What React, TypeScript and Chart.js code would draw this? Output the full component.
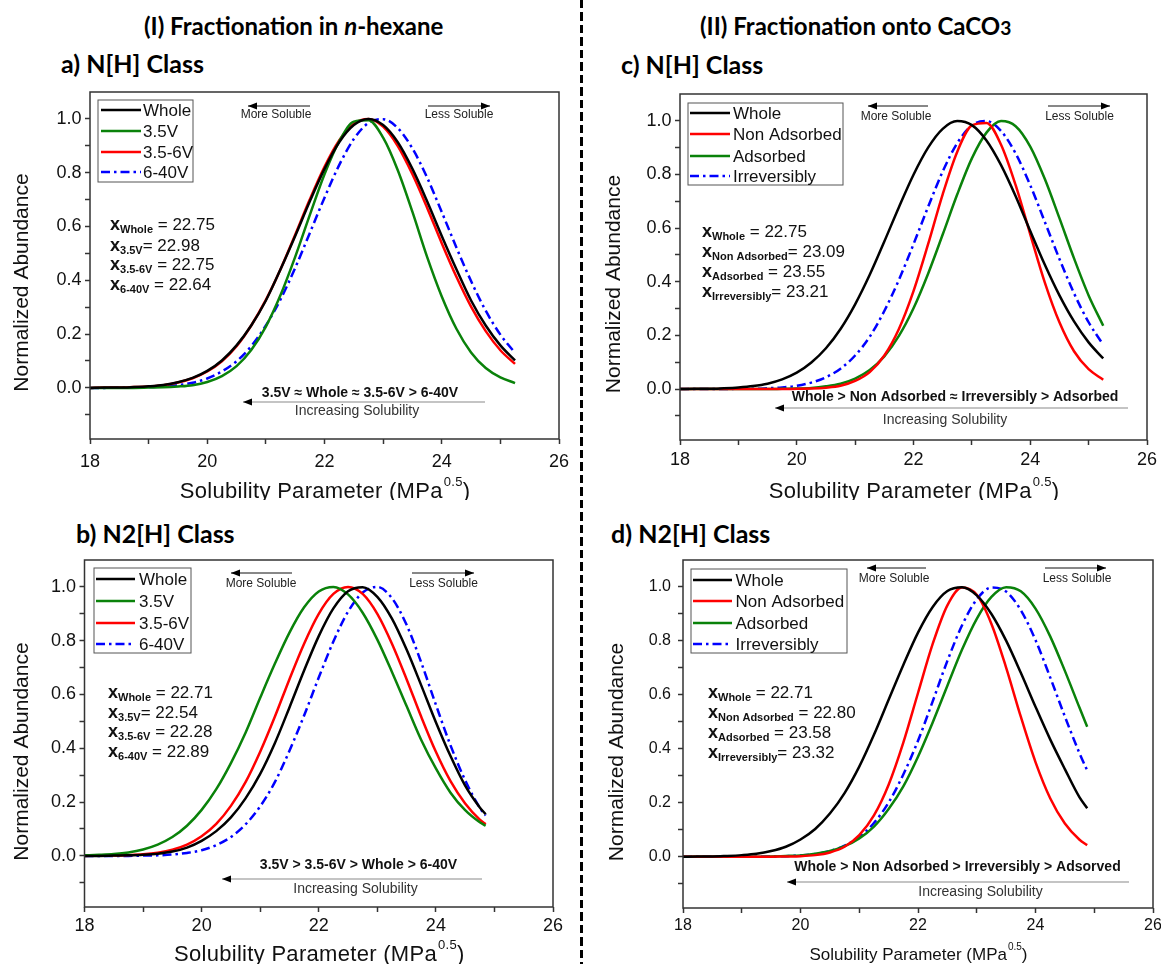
import React, { useEffect, useRef } from 'react';
import { Chart, registerables } from 'chart.js';

Chart.register(...registerables);

const FONT = '"Liberation Sans", Arial, Helvetica, sans-serif';
const HEAD_FONT = 'Lato, "Open Sans", sans-serif';

// ---------- data ----------
const X_AC = [18, 18.25, 18.5, 18.75, 19, 19.25, 19.5, 19.75, 20, 20.25, 20.5, 20.75, 21, 21.25, 21.5, 21.75, 22, 22.25, 22.5, 22.75, 23, 23.25, 23.5, 23.75, 24, 24.25, 24.5, 24.75, 25, 25.25];
const X_B = [18, 18.25, 18.5, 18.75, 19, 19.25, 19.5, 19.75, 20, 20.25, 20.5, 20.75, 21, 21.25, 21.5, 21.75, 22, 22.25, 22.5, 22.75, 23, 23.25, 23.5, 23.75, 24, 24.25, 24.5, 24.75, 24.85];
const X_D = [18, 18.25, 18.5, 18.75, 19, 19.25, 19.5, 19.75, 20, 20.25, 20.5, 20.75, 21, 21.25, 21.5, 21.75, 22, 22.25, 22.5, 22.75, 23, 23.25, 23.5, 23.75, 24, 24.25, 24.5, 24.75, 24.88];

// (a) N[H] class, n-hexane
const A_WHOLE = [0, 0.001, 0.001, 0.003, 0.006, 0.011, 0.021, 0.037, 0.063, 0.102, 0.158, 0.232, 0.325, 0.441, 0.565, 0.694, 0.814, 0.913, 0.977, 1.0, 0.977, 0.913, 0.814, 0.694, 0.565, 0.441, 0.325, 0.232, 0.158, 0.102];
const A_35V = [0, 0, 0, 0, 0.001, 0.002, 0.005, 0.010, 0.022, 0.044, 0.081, 0.141, 0.228, 0.345, 0.487, 0.643, 0.794, 0.916, 0.99, 0.995, 0.930, 0.809, 0.654, 0.487, 0.340, 0.220, 0.132, 0.074, 0.039, 0.018];
const A_356V = [0, 0.001, 0.001, 0.003, 0.005, 0.010, 0.020, 0.036, 0.061, 0.099, 0.155, 0.232, 0.327, 0.441, 0.569, 0.701, 0.822, 0.920, 0.982, 1.0, 0.971, 0.899, 0.794, 0.670, 0.538, 0.413, 0.302, 0.211, 0.140, 0.089];
const A_640V = [0, 0, 0.001, 0.001, 0.003, 0.005, 0.010, 0.019, 0.035, 0.061, 0.099, 0.155, 0.232, 0.329, 0.446, 0.576, 0.707, 0.828, 0.925, 0.985, 0.999, 0.966, 0.890, 0.782, 0.654, 0.522, 0.397, 0.287, 0.198, 0.130];

// (b) N2[H] class, n-hexane
const B_WHOLE = [0, 0, 0.001, 0.002, 0.004, 0.008, 0.016, 0.031, 0.056, 0.092, 0.143, 0.214, 0.305, 0.419, 0.552, 0.689, 0.817, 0.920, 0.984, 0.999, 0.963, 0.882, 0.767, 0.634, 0.497, 0.371, 0.261, 0.180, 0.155];
const B_35V = [0.002, 0.004, 0.007, 0.013, 0.024, 0.042, 0.070, 0.112, 0.171, 0.248, 0.345, 0.458, 0.588, 0.714, 0.830, 0.924, 0.983, 1.0, 0.972, 0.904, 0.804, 0.684, 0.557, 0.431, 0.325, 0.235, 0.170, 0.125, 0.112];
const B_356V = [0, 0.001, 0.001, 0.003, 0.006, 0.012, 0.023, 0.042, 0.073, 0.119, 0.186, 0.274, 0.387, 0.517, 0.657, 0.789, 0.900, 0.974, 1.0, 0.974, 0.900, 0.789, 0.657, 0.517, 0.387, 0.278, 0.195, 0.135, 0.118];
const B_640V = [0, 0, 0, 0, 0.001, 0.002, 0.005, 0.011, 0.021, 0.040, 0.070, 0.117, 0.184, 0.274, 0.391, 0.522, 0.663, 0.797, 0.908, 0.979, 1.0, 0.958, 0.859, 0.719, 0.562, 0.411, 0.281, 0.179, 0.150];

// (c) N[H] class, CaCO3
const C_WHOLE = [0, 0.001, 0.001, 0.003, 0.006, 0.011, 0.020, 0.036, 0.061, 0.099, 0.152, 0.224, 0.316, 0.426, 0.550, 0.678, 0.799, 0.900, 0.970, 0.999, 0.984, 0.927, 0.835, 0.719, 0.589, 0.463, 0.349, 0.252, 0.174, 0.114];
const C_NONADS = [0, 0, 0, 0, 0, 0, 0, 0, 0.001, 0.002, 0.005, 0.012, 0.030, 0.063, 0.125, 0.224, 0.365, 0.540, 0.726, 0.885, 0.983, 0.992, 0.911, 0.760, 0.577, 0.397, 0.249, 0.141, 0.074, 0.035];
const C_ADS = [0, 0, 0, 0, 0, 0, 0, 0.001, 0.002, 0.004, 0.010, 0.020, 0.039, 0.071, 0.122, 0.198, 0.301, 0.430, 0.576, 0.726, 0.860, 0.956, 0.999, 0.980, 0.904, 0.783, 0.637, 0.487, 0.349, 0.236];
const C_IRR = [0, 0, 0, 0, 0.001, 0.001, 0.003, 0.006, 0.012, 0.024, 0.044, 0.076, 0.125, 0.195, 0.291, 0.407, 0.540, 0.679, 0.811, 0.917, 0.983, 0.999, 0.962, 0.878, 0.760, 0.623, 0.485, 0.357, 0.249, 0.165];

// (d) N2[H] class, CaCO3
const D_WHOLE = [0, 0.001, 0.001, 0.003, 0.006, 0.011, 0.021, 0.037, 0.064, 0.103, 0.160, 0.236, 0.334, 0.452, 0.582, 0.711, 0.831, 0.926, 0.985, 0.999, 0.969, 0.900, 0.801, 0.682, 0.556, 0.435, 0.325, 0.220, 0.180];
const D_NONADS = [0, 0, 0, 0, 0, 0, 0, 0.001, 0.002, 0.006, 0.016, 0.037, 0.080, 0.153, 0.267, 0.423, 0.607, 0.789, 0.932, 0.998, 0.971, 0.863, 0.701, 0.519, 0.351, 0.217, 0.123, 0.063, 0.043];
const D_ADS = [0, 0, 0, 0, 0, 0, 0.001, 0.003, 0.005, 0.011, 0.021, 0.039, 0.068, 0.112, 0.177, 0.261, 0.371, 0.498, 0.634, 0.768, 0.882, 0.963, 0.999, 0.984, 0.920, 0.817, 0.689, 0.552, 0.482];
const D_IRR = [0, 0, 0, 0, 0, 0, 0.001, 0.002, 0.005, 0.010, 0.021, 0.041, 0.073, 0.125, 0.201, 0.305, 0.430, 0.576, 0.726, 0.858, 0.954, 0.998, 0.983, 0.914, 0.803, 0.665, 0.520, 0.383, 0.320];

const LABELS_HEX = ['Whole', '3.5V', '3.5-6V', '6-40V'];
const LABELS_CACO3 = ['Whole', 'Non Adsorbed', 'Adsorbed', 'Irreversibly'];

const A_MEANS = [['Whole', ' = 22.75'], ['3.5V', '= 22.98'], ['3.5-6V', ' = 22.75'], ['6-40V', ' = 22.64']];
const B_MEANS = [['Whole', ' = 22.71'], ['3.5V', '= 22.54'], ['3.5-6V', ' = 22.28'], ['6-40V', ' = 22.89']];
const C_MEANS = [['Whole', ' = 22.75'], ['Non Adsorbed', '= 23.09'], ['Adsorbed', ' = 23.55'], ['Irreversibly', '= 23.21']];
const D_MEANS = [['Whole', ' = 22.71'], ['Non Adsorbed', ' = 22.80'], ['Adsorbed', ' = 23.58'], ['Irreversibly', '= 23.32']];

const A_ORDER = '3.5V \u2248 Whole \u2248 3.5-6V > 6-40V';
const B_ORDER = '3.5V > 3.5-6V > Whole > 6-40V';
const C_ORDER = 'Whole > Non Adsorbed \u2248 Irreversibly > Adsorbed';
const D_ORDER = 'Whole > Non Adsorbed > Irreversibly > Adsorved';

const X_TICKS = [18, 19, 20, 21, 22, 23, 24, 25, 26];
const Y_TICKS = [-0.1, 0, 0.1, 0.2, 0.3, 0.4, 0.5, 0.6, 0.7, 0.8, 0.9, 1.0];

// ---------- styles ----------
const BLACK = '#000000';
const GREEN = '#0a820a';
const RED = '#ff0000';
const BLUE = '#0000ff';
const DASHDOT = [9, 4, 2.5, 4];

type Series = { label: string; color: string; dash?: number[]; data: number[] };
type Panel = {
  id: string;
  canvas: { left: number; top: number; width: number; height: number };
  area: { left: number; right: number; top: number; bottom: number };
  xs: number[];
  series: Series[];
  tickFont: number;
  xTickPad: number;
  yTickPad: number;
  xTitleSize: number;
  xTitleY: number;
  yTitleX: number;
  yTitleShift: number;
  legend: { x: number; y: number; w: number; h: number; rows: number[]; l0: number; l1: number; tx: number };
  means: string[][];
  meansX: number;
  meansRows: number[];
  more: { tx: number; ty: number; a0: number; a1: number; ay: number };
  less: { tx: number; ty: number; a0: number; a1: number; ay: number };
  order: string;
  orderPos: { x: number; y: number };
  incArrow: { x0: number; x1: number; y: number };
  incText: { x: number; y: number };
};

const PANELS: Panel[] = [
  {
    id: 'a',
    canvas: { left: 0, top: 70, width: 580, height: 430 },
    area: { left: 90, right: 559, top: 92, bottom: 439 },
    xs: X_AC,
    series: [
      { label: LABELS_HEX[0], color: BLACK, data: A_WHOLE },
      { label: LABELS_HEX[1], color: GREEN, data: A_35V },
      { label: LABELS_HEX[2], color: RED, data: A_356V },
      { label: LABELS_HEX[3], color: BLUE, dash: DASHDOT, data: A_640V },
    ],
    tickFont: 18, xTickPad: 7, yTickPad: 3.5, xTitleSize: 22, xTitleY: 492, yTitleX: 22, yTitleShift: 17,
    legend: { x: 8, y: 8, w: 95, h: 82, rows: [18, 39, 60, 80], l0: 3, l1: 43, tx: 45 },
    means: A_MEANS, meansX: 20, meansRows: [133, 154, 173, 193],
    more: { tx: 186, ty: 23, a0: 158, a1: 220, ay: 14 },
    less: { tx: 369, ty: 23, a0: 338, a1: 400, ay: 14 },
    order: A_ORDER, orderPos: { x: 270, y: 301 },
    incArrow: { x0: 153, x1: 395, y: 310 }, incText: { x: 267, y: 319 },
  },
  {
    id: 'b',
    canvas: { left: 0, top: 540, width: 580, height: 424 },
    area: { left: 84.5, right: 553, top: 560, bottom: 907 },
    xs: X_B,
    series: [
      { label: LABELS_HEX[0], color: BLACK, data: B_WHOLE },
      { label: LABELS_HEX[1], color: GREEN, data: B_35V },
      { label: LABELS_HEX[2], color: RED, data: B_356V },
      { label: LABELS_HEX[3], color: BLUE, dash: DASHDOT, data: B_640V },
    ],
    tickFont: 18, xTickPad: 3, yTickPad: 3.5, xTitleSize: 22, xTitleY: 955, yTitleX: 22, yTitleShift: 18,
    legend: { x: 9.5, y: 8, w: 97, h: 85, rows: [19, 41, 63, 84], l0: 2, l1: 41, tx: 45 },
    means: B_MEANS, meansX: 23.5, meansRows: [133, 153, 172, 192],
    more: { tx: 176.5, ty: 24, a0: 146.5, a1: 207.5, ay: 13 },
    less: { tx: 359, ty: 24, a0: 327.5, a1: 389.5, ay: 13 },
    order: B_ORDER, orderPos: { x: 274, y: 305 },
    incArrow: { x0: 137.5, x1: 397.5, y: 319 }, incText: { x: 271, y: 329 },
  },
  {
    id: 'c',
    canvas: { left: 585, top: 70, width: 576, height: 430 },
    area: { left: 680, right: 1147, top: 94, bottom: 440 },
    xs: X_AC,
    series: [
      { label: LABELS_CACO3[0], color: BLACK, data: C_WHOLE },
      { label: LABELS_CACO3[1], color: RED, data: C_NONADS },
      { label: LABELS_CACO3[2], color: GREEN, data: C_ADS },
      { label: LABELS_CACO3[3], color: BLUE, dash: DASHDOT, data: C_IRR },
    ],
    tickFont: 18, xTickPad: 4, yTickPad: 3.5, xTitleSize: 22, xTitleY: 492, yTitleX: 614, yTitleShift: 17,
    legend: { x: 8, y: 9, w: 155, h: 82, rows: [19, 40, 62, 82], l0: 2, l1: 42, tx: 45 },
    means: C_MEANS, meansX: 22, meansRows: [138, 158, 178, 198],
    more: { tx: 216, ty: 23, a0: 188, a1: 248, ay: 12 },
    less: { tx: 399.5, ty: 23, a0: 368, a1: 430, ay: 12 },
    order: C_ORDER, orderPos: { x: 275, y: 303 },
    incArrow: { x0: 95, x1: 448, y: 314 }, incText: { x: 265, y: 326 },
  },
  {
    id: 'd',
    canvas: { left: 585, top: 540, width: 576, height: 424 },
    area: { left: 683, right: 1153, top: 560, bottom: 908 },
    xs: X_D,
    series: [
      { label: LABELS_CACO3[0], color: BLACK, data: D_WHOLE },
      { label: LABELS_CACO3[1], color: RED, data: D_NONADS },
      { label: LABELS_CACO3[2], color: GREEN, data: D_ADS },
      { label: LABELS_CACO3[3], color: BLUE, dash: DASHDOT, data: D_IRR },
    ],
    tickFont: 16, xTickPad: 2.5, yTickPad: 7, xTitleSize: 17, xTitleY: 955, yTitleX: 617, yTitleShift: 18,
    legend: { x: 8, y: 9, w: 156, h: 84, rows: [20, 41, 63, 84], l0: 2, l1: 41, tx: 44.5 },
    means: D_MEANS, meansX: 25, meansRows: [133, 153, 173, 193],
    more: { tx: 211, ty: 19, a0: 184, a1: 243, ay: 8 },
    less: { tx: 394, ty: 19, a0: 362, a1: 423, ay: 8 },
    order: D_ORDER, orderPos: { x: 274.5, y: 307 },
    incArrow: { x0: 104, x1: 446, y: 322 }, incText: { x: 297.5, y: 332 },
  },
];

function arrowHead(ctx: CanvasRenderingContext2D, x: number, y: number, dir: number) {
  ctx.beginPath();
  ctx.moveTo(x, y);
  ctx.lineTo(x - dir * 9, y - 3.5);
  ctx.lineTo(x - dir * 9, y + 3.5);
  ctx.closePath();
  ctx.fill();
}

function makeDecor(p: Panel) {
  return {
    id: 'decor_' + p.id,
    afterDraw(chart: any) {
      const ctx = chart.ctx as CanvasRenderingContext2D;
      const ca = chart.chartArea;
      const L = ca.left;
      const T = ca.top;
      ctx.save();
      ctx.setLineDash([]);
      // frame
      ctx.strokeStyle = '#333';
      ctx.lineWidth = 1.5;
      ctx.strokeRect(L, T, ca.right - L, ca.bottom - T);

      // legend
      const lg = p.legend;
      ctx.strokeStyle = '#555';
      ctx.lineWidth = 1;
      ctx.strokeRect(L + lg.x, T + lg.y, lg.w, lg.h);
      p.series.forEach((s, i) => {
        const y = T + lg.rows[i];
        ctx.strokeStyle = s.color;
        ctx.lineWidth = 2.5;
        ctx.setLineDash(s.dash || []);
        ctx.beginPath();
        ctx.moveTo(L + lg.x + lg.l0, y);
        ctx.lineTo(L + lg.x + lg.l1, y);
        ctx.stroke();
        ctx.setLineDash([]);
        ctx.fillStyle = '#111';
        ctx.font = `17px ${FONT}`;
        ctx.textAlign = 'left';
        ctx.textBaseline = 'middle';
        ctx.fillText(s.label, L + lg.x + lg.tx, y + 1);
      });

      // More / Less soluble
      ctx.fillStyle = '#222';
      ctx.strokeStyle = '#111';
      ctx.lineWidth = 1;
      ctx.font = `12px ${FONT}`;
      ctx.textAlign = 'center';
      ctx.textBaseline = 'middle';
      ctx.fillText('More Soluble', L + p.more.tx, T + p.more.ty);
      ctx.fillText('Less Soluble', L + p.less.tx, T + p.less.ty);
      ctx.beginPath();
      ctx.moveTo(L + p.more.a0, T + p.more.ay);
      ctx.lineTo(L + p.more.a1, T + p.more.ay);
      ctx.moveTo(L + p.less.a0, T + p.less.ay);
      ctx.lineTo(L + p.less.a1, T + p.less.ay);
      ctx.stroke();
      ctx.fillStyle = '#000';
      arrowHead(ctx, L + p.more.a0, T + p.more.ay, -1);
      arrowHead(ctx, L + p.less.a1, T + p.less.ay, 1);

      // means
      ctx.textAlign = 'left';
      ctx.textBaseline = 'middle';
      ctx.fillStyle = '#111';
      p.means.forEach((m, i) => {
        let x = L + p.meansX;
        const y = T + p.meansRows[i];
        ctx.font = `bold 18px ${FONT}`;
        ctx.fillText('x', x, y);
        x += ctx.measureText('x').width;
        ctx.font = `bold 11px ${FONT}`;
        ctx.fillText(m[0], x, y + 5);
        x += ctx.measureText(m[0]).width;
        ctx.font = `17px ${FONT}`;
        ctx.fillText(m[1], x, y);
      });

      // order text and increasing-solubility arrow
      ctx.textAlign = 'center';
      ctx.font = `bold 14px ${FONT}`;
      ctx.fillStyle = '#111';
      ctx.fillText(p.order, L + p.orderPos.x, T + p.orderPos.y);
      ctx.strokeStyle = '#8a8a8a';
      ctx.lineWidth = 1.2;
      ctx.beginPath();
      ctx.moveTo(L + p.incArrow.x0, T + p.incArrow.y);
      ctx.lineTo(L + p.incArrow.x1, T + p.incArrow.y);
      ctx.stroke();
      ctx.fillStyle = '#000';
      arrowHead(ctx, L + p.incArrow.x0, T + p.incArrow.y, -1);
      ctx.fillStyle = '#333';
      ctx.font = `14px ${FONT}`;
      ctx.fillText('Increasing Solubility', L + p.incText.x, T + p.incText.y);

      // x-axis title with superscript
      const cx = (ca.left + ca.right) / 2;
      const cy = p.xTitleY - p.canvas.top;
      const sz = p.xTitleSize;
      const main = 'Solubility Parameter (MPa';
      const sup = '0.5';
      const close = ')';
      (ctx as any).letterSpacing = sz > 20 ? '0.3px' : '0px';
      ctx.font = `${sz}px ${FONT}`;
      const w1 = ctx.measureText(main).width;
      const w3 = ctx.measureText(close).width;
      ctx.font = `${Math.round(sz * 0.6)}px ${FONT}`;
      const w2 = ctx.measureText(sup).width;
      let x = cx - (w1 + w2 + w3) / 2;
      ctx.textAlign = 'left';
      ctx.fillStyle = '#111';
      ctx.font = `${sz}px ${FONT}`;
      ctx.fillText(main, x, cy);
      x += w1;
      ctx.font = `${Math.round(sz * 0.6)}px ${FONT}`;
      ctx.fillText(sup, x + 1, cy - sz * 0.45);
      x += w2 + 1;
      ctx.font = `${sz}px ${FONT}`;
      ctx.fillText(close, x, cy);
      (ctx as any).letterSpacing = '0px';

      // y-axis title
      ctx.save();
      ctx.translate(p.yTitleX - p.canvas.left, (ca.top + ca.bottom) / 2 + p.yTitleShift);
      ctx.rotate(-Math.PI / 2);
      ctx.textAlign = 'center';
      ctx.font = `21px ${FONT}`;
      ctx.fillStyle = '#111';
      ctx.fillText('Normalized Abundance', 0, 0);
      ctx.restore();

      ctx.restore();
    },
  };
}

function PanelChart({ p }: { p: Panel }) {
  const ref = useRef<HTMLCanvasElement | null>(null);
  useEffect(() => {
    if (!ref.current) return;
    const yw = p.area.left - p.canvas.left;
    const xh = p.canvas.top + p.canvas.height - p.area.bottom;
    const padTop = p.area.top - p.canvas.top;
    const padRight = p.canvas.left + p.canvas.width - p.area.right;
    const chart = new Chart(ref.current, {
      type: 'line',
      data: {
        datasets: p.series.map((s) => ({
          label: s.label,
          data: p.xs.map((x, i) => ({ x, y: s.data[i] })),
          borderColor: s.color,
          backgroundColor: s.color,
          borderWidth: 2.5,
          borderDash: s.dash || [],
          pointRadius: 0,
          fill: false,
          cubicInterpolationMode: 'monotone',
        })),
      },
      options: {
        responsive: false,
        animation: false,
        devicePixelRatio: 1,
        events: [],
        layout: { padding: { left: 0, top: padTop, right: padRight, bottom: 0 } },
        plugins: { legend: { display: false }, tooltip: { enabled: false }, title: { display: false } },
        scales: {
          x: {
            type: 'linear',
            min: 18,
            max: 26,
            afterBuildTicks: (s: any) => {
              s.ticks = X_TICKS.map((v) => ({ value: v }));
            },
            afterFit: (s: any) => {
              s.height = xh;
              s.paddingLeft = 0;
              s.paddingRight = 0;
            },
            ticks: {
              autoSkip: false,
              maxRotation: 0,
              padding: p.xTickPad,
              color: '#111',
              font: { family: FONT, size: p.tickFont },
              callback: (v: any) => (Number(v) % 2 === 0 ? String(v) : ''),
            },
            grid: { drawOnChartArea: false, drawTicks: true, tickLength: 5, tickColor: '#333', tickWidth: 1.5 },
            border: { display: false },
          },
          y: {
            type: 'linear',
            min: -0.19,
            max: 1.1,
            afterBuildTicks: (s: any) => {
              s.ticks = Y_TICKS.map((v) => ({ value: v }));
            },
            afterFit: (s: any) => {
              s.width = yw;
              s.paddingTop = 0;
              s.paddingBottom = 0;
            },
            ticks: {
              autoSkip: false,
              padding: p.yTickPad,
              color: '#111',
              font: { family: FONT, size: p.tickFont },
              callback: (v: any) => {
                const r = Math.round(Number(v) * 10);
                return r >= 0 && r % 2 === 0 ? (r / 10).toFixed(1) : '';
              },
            },
            grid: { drawOnChartArea: false, drawTicks: true, tickLength: 5, tickColor: '#333', tickWidth: 1.5 },
            border: { display: false },
          },
        },
      } as any,
      plugins: [makeDecor(p)],
    });
    return () => chart.destroy();
  }, [p]);
  return (
    <canvas
      ref={ref}
      width={p.canvas.width}
      height={p.canvas.height}
      style={{ position: 'absolute', left: p.canvas.left, top: p.canvas.top, width: p.canvas.width, height: p.canvas.height }}
    />
  );
}

function Heading({ left, cy, size, children }: { left: number; cy: number; size: number; children: any }) {
  return (
    <div
      style={{
        position: 'absolute',
        left,
        top: cy - size * 0.7,
        height: size * 1.4,
        lineHeight: `${size * 1.4}px`,
        fontFamily: HEAD_FONT,
        fontWeight: 700,
        fontSize: size,
        whiteSpace: 'nowrap',
        color: '#000',
      }}
    >
      {children}
    </div>
  );
}

export default function App() {
  return (
    <div style={{ position: 'absolute', left: 0, top: 0, width: 1161, height: 964, background: '#fff', overflow: 'hidden' }}>
      <Heading left={144} cy={26} size={24}>
        (I) Fractionation in <i>n</i>-hexane
      </Heading>
      <Heading left={700} cy={26} size={24}>
        (II) Fractionation onto CaCO<span style={{ fontSize: '80%' }}>3</span>
      </Heading>
      <Heading left={61} cy={63} size={25}>a) N[H] Class</Heading>
      <Heading left={621} cy={64} size={25}>c) N[H] Class</Heading>
      <Heading left={76} cy={533} size={25}>b) N2[H] Class</Heading>
      <Heading left={611} cy={533} size={25}>d) N2[H] Class</Heading>
      <div
        style={{
          position: 'absolute',
          left: 580,
          top: 0,
          width: 2.5,
          height: 964,
          background: 'repeating-linear-gradient(to bottom, #000 0px, #000 8px, transparent 8px, transparent 12.5px)',
        }}
      />
      {PANELS.map((p) => (
        <PanelChart key={p.id} p={p} />
      ))}
    </div>
  );
}
